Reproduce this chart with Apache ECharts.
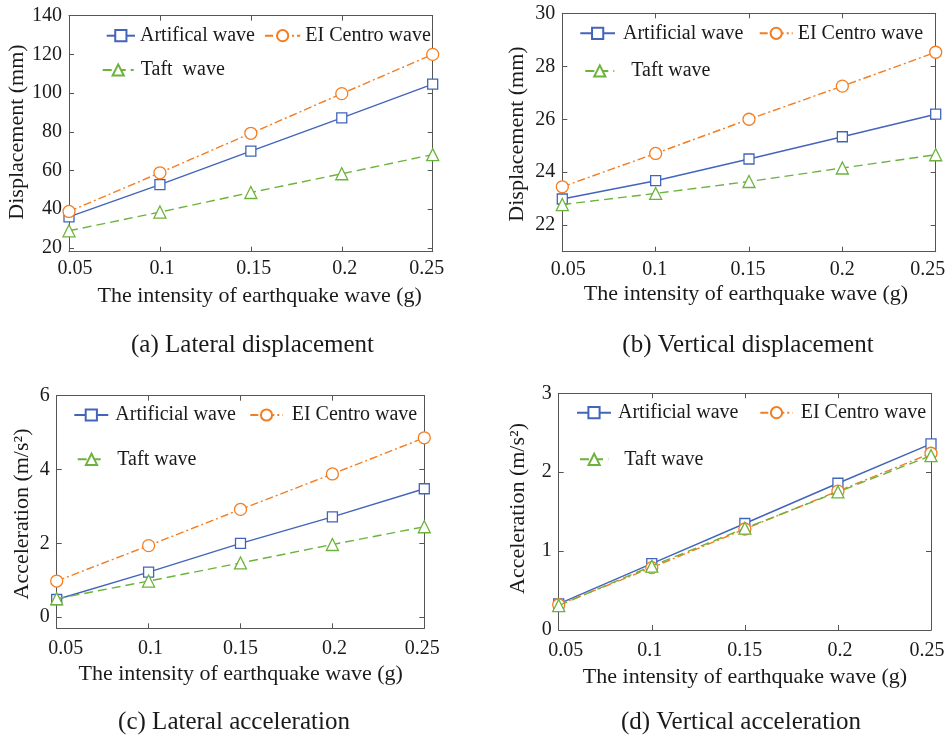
<!DOCTYPE html>
<html>
<head>
<meta charset="utf-8">
<script src="https://cdn.jsdelivr.net/npm/echarts@6/dist/echarts.min.js"></script>
<style>
  html, body { margin: 0; padding: 0; background: #fff; }
  #chart { width: 949px; height: 740px; }
</style>
</head>
<body>
<div id="chart"></div>
<script>
// Shared x values: earthquake wave intensity (g)
const intensity = [0.05, 0.1, 0.15, 0.2, 0.25];
const xTickLabels = ['0.05', '0.1', '0.15', '0.2', '0.25'];

// (a) Lateral displacement (mm)
const latDispArtificial = [36.0, 52.7, 70.0, 87.2, 104.6];
const latDispElCentro = [38.8, 58.8, 79.2, 99.7, 120.0];
const latDispTaft = [28.8, 38.5, 48.6, 58.3, 68.2];
const latDispTicks = [20, 40, 60, 80, 100, 120, 140];

// (b) Vertical displacement (mm)
const verDispArtificial = [22.99, 23.68, 24.50, 25.34, 26.19];
const verDispElCentro = [23.45, 24.71, 26.00, 27.25, 28.53];
const verDispTaft = [22.78, 23.20, 23.65, 24.16, 24.66];
const verDispTicks = [22, 24, 26, 28, 30];

// (c) Lateral acceleration (m/s2)
const latAccArtificial = [0.48, 1.22, 2.00, 2.72, 3.48];
const latAccElCentro = [0.98, 1.94, 2.92, 3.88, 4.86];
const latAccTaft = [0.50, 0.98, 1.47, 1.97, 2.45];
const latAccTicks = [0, 2, 4, 6];

// (d) Vertical acceleration (m/s2)
const verAccArtificial = [0.33, 0.84, 1.35, 1.86, 2.36];
const verAccElCentro = [0.32, 0.79, 1.28, 1.76, 2.24];
const verAccTaft = [0.31, 0.81, 1.29, 1.75, 2.21];
const verAccTicks = [0, 1, 2, 3];

const FONT = 'Liberation Serif, Times New Roman, serif';
const TEXT = '#1a1a1a';
const AXIS = '#555555';
const BLUE = '#4264BA';
const ORANGE = '#F47D20';
const GREEN = '#6CB33C';

const pairs = (ys) => intensity.map((x, i) => [x, ys[i]]);

// hollow markers: white fill, coloured outline
const styles = {
  artificial: { color: BLUE, symbol: 'rect', size: 10, dash: 'solid' },
  elcentro: { color: ORANGE, symbol: 'circle', size: 12, dash: [8, 3, 2, 3] },
  taft: { color: GREEN, symbol: 'triangle', size: 12, dash: [9, 5] }
};

const panels = [
  {
    grid: { left: 69, top: 15.7, width: 363.7, height: 236 },
    yMin: 18, yMax: 140, yTicks: latDispTicks,
    labelShift: [6, 2, 3, 3, -6],
    series: [
      { name: 'Artifical wave', kind: 'artificial', values: latDispArtificial },
      { name: 'EI Centro wave', kind: 'elcentro', values: latDispElCentro },
      { name: 'Taft  wave', kind: 'taft', values: latDispTaft }
    ],
    legends: [
      { left: 105.7, cy: 35.7, w: 28.3, pad: 0 },
      { left: 264, cy: 35.7, w: 35.3, pad: 0 },
      { left: 101.7, cy: 70, w: 31, pad: 2 }
    ],
    xTitle: { x: 259.7, y: 296.6 },
    yTitle: { x: 17.5, y: 132, text: 'Displacement (mm)' },
    caption: { x: 252.5, y: 345, text: '(a) Lateral displacement' },
    xLabelMargin: 7
  },
  {
    grid: { left: 562.3, top: 13.3, width: 373.4, height: 238.4 },
    yMin: 21, yMax: 30, yTicks: verDispTicks,
    labelShift: [6, -1, -1, 0, -8],
    series: [
      { name: 'Artificial wave', kind: 'artificial', values: verDispArtificial },
      { name: 'EI Centro wave', kind: 'elcentro', values: verDispElCentro },
      { name: 'Taft wave', kind: 'taft', values: verDispTaft }
    ],
    legends: [
      { left: 579.3, cy: 33.3, w: 34.7, pad: 3 },
      { left: 758.7, cy: 33.3, w: 33, pad: 0 },
      { left: 584.3, cy: 71, w: 29, pad: 12 }
    ],
    xTitle: { x: 746, y: 294 },
    yTitle: { x: 517.5, y: 134, text: 'Displacement (mm)' },
    caption: { x: 748, y: 345, text: '(b) Vertical displacement' },
    xLabelMargin: 8.5
  },
  {
    grid: { left: 56.7, top: 395.7, width: 367.6, height: 232.6 },
    yMin: -0.3, yMax: 6, yTicks: latAccTicks,
    labelShift: [9, 2, 0, 2, -2],
    series: [
      { name: 'Artificial wave', kind: 'artificial', values: latAccArtificial },
      { name: 'EI Centro wave', kind: 'elcentro', values: latAccElCentro },
      { name: 'Taft wave', kind: 'taft', values: latAccTaft }
    ],
    legends: [
      { left: 73.3, cy: 415, w: 34, pad: 2 },
      { left: 249.3, cy: 415, w: 32.4, pad: 4 },
      { left: 76.7, cy: 459.3, w: 27.6, pad: 7 }
    ],
    xTitle: { x: 240.7, y: 674 },
    yTitle: { x: 22.5, y: 514, text: 'Acceleration (m/s\u00B2)' },
    caption: { x: 234, y: 722.6, text: '(c) Lateral acceleration' },
    xLabelMargin: 10.4
  },
  {
    grid: { left: 558.7, top: 393.3, width: 372.3, height: 236.7 },
    yMin: 0, yMax: 3, yTicks: verAccTicks,
    labelShift: [7, -2, 0, 2, -4],
    series: [
      { name: 'Artificial wave', kind: 'artificial', values: verAccArtificial },
      { name: 'EI Centro wave', kind: 'elcentro', values: verAccElCentro },
      { name: 'Taft wave', kind: 'taft', values: verAccTaft }
    ],
    legends: [
      { left: 576, cy: 412.7, w: 34, pad: 2 },
      { left: 759.3, cy: 412.7, w: 32.4, pad: 3 },
      { left: 579, cy: 459.3, w: 28.3, pad: 11 }
    ],
    xTitle: { x: 745, y: 677 },
    yTitle: { x: 518.5, y: 508.5, text: 'Acceleration (m/s\u00B2)' },
    caption: { x: 741, y: 722, text: '(d) Vertical acceleration' },
    xLabelMargin: 10.3
  }
];

const option = {
  animation: false,
  backgroundColor: '#ffffff',
  grid: [], xAxis: [], yAxis: [], series: [], legend: [], graphic: []
};

panels.forEach((p, gi) => {
  option.grid.push(Object.assign({ containLabel: false }, p.grid));

  // per-label horizontal nudges via rich text padding
  const rich = {};
  p.labelShift.forEach((s, i) => {
    rich['s' + i] = {
      fontFamily: FONT, fontSize: 20, color: TEXT,
      padding: s >= 0 ? [0, 0, 0, 2 * s] : [0, -2 * s, 0, 0]
    };
  });

  const tickStyle = { show: true, inside: true, length: 5, lineStyle: { color: AXIS, width: 1 } };
  const lineStyle = { show: true, onZero: false, lineStyle: { color: AXIS, width: 1 } };

  // bottom x axis with labels
  option.xAxis.push({
    type: 'value', gridIndex: gi, position: 'bottom',
    min: 0.05, max: 0.25,
    axisLine: lineStyle,
    axisTick: Object.assign({ customValues: intensity }, tickStyle),
    splitLine: { show: false },
    axisLabel: {
      customValues: intensity,
      margin: p.xLabelMargin,
      formatter: (v) => {
        const i = intensity.findIndex((t) => Math.abs(t - v) < 1e-9);
        return '{s' + i + '|' + xTickLabels[i] + '}';
      },
      rich: rich
    }
  });
  // top mirror axis (ticks only)
  option.xAxis.push({
    type: 'value', gridIndex: gi, position: 'top',
    min: 0.05, max: 0.25,
    axisLine: lineStyle,
    axisTick: Object.assign({ customValues: intensity }, tickStyle),
    axisLabel: { show: false },
    splitLine: { show: false }
  });
  // left y axis with labels
  option.yAxis.push({
    type: 'value', gridIndex: gi, position: 'left',
    min: p.yMin, max: p.yMax,
    axisLine: lineStyle,
    axisTick: Object.assign({ customValues: p.yTicks }, tickStyle),
    splitLine: { show: false },
    axisLabel: {
      customValues: p.yTicks, margin: 7,
      fontFamily: FONT, fontSize: 20, color: TEXT
    }
  });
  // right mirror axis (ticks only)
  option.yAxis.push({
    type: 'value', gridIndex: gi, position: 'right',
    min: p.yMin, max: p.yMax,
    axisLine: lineStyle,
    axisTick: Object.assign({ customValues: p.yTicks }, tickStyle),
    axisLabel: { show: false },
    splitLine: { show: false }
  });

  p.series.forEach((s, si) => {
    const st = styles[s.kind];
    option.series.push({
      type: 'line', name: s.name,
      xAxisIndex: gi * 2, yAxisIndex: gi * 2,
      data: pairs(s.values),
      symbol: st.symbol, symbolSize: st.size,
      showAllSymbol: true,
      lineStyle: { color: st.color, width: 1.4, type: st.dash },
      itemStyle: { color: '#ffffff', borderColor: st.color, borderWidth: 1.3 },
      z: 2 + si
    });
    const lg = p.legends[si];
    option.legend.push({
      data: [s.name],
      left: lg.left, top: lg.cy - 10,
      orient: 'horizontal',
      padding: 0,
      itemWidth: lg.w, itemHeight: 14,
      selectedMode: false,
      textStyle: {
        fontFamily: FONT, fontSize: 20, color: TEXT,
        padding: [0, 0, 0, lg.pad]
      }
    });
  });

  // x-axis title
  option.graphic.push({
    type: 'text', x: p.xTitle.x, y: p.xTitle.y, silent: true,
    style: {
      text: 'The intensity of earthquake wave (g)',
      font: '22px ' + FONT, fill: TEXT,
      textAlign: 'center', textVerticalAlign: 'middle'
    }
  });
  // y-axis title (rotated)
  option.graphic.push({
    type: 'text', x: p.yTitle.x, y: p.yTitle.y, rotation: Math.PI / 2, silent: true,
    style: {
      text: p.yTitle.text,
      font: '22px ' + FONT, fill: TEXT,
      textAlign: 'center', textVerticalAlign: 'middle'
    }
  });
  // panel caption
  option.graphic.push({
    type: 'text', x: p.caption.x, y: p.caption.y, silent: true,
    style: {
      text: p.caption.text,
      font: '25px ' + FONT, fill: TEXT,
      textAlign: 'center', textVerticalAlign: 'middle'
    }
  });
});

const chart = echarts.init(document.getElementById('chart'), null, { renderer: 'canvas' });
chart.setOption(option);
</script>
</body>
</html>
